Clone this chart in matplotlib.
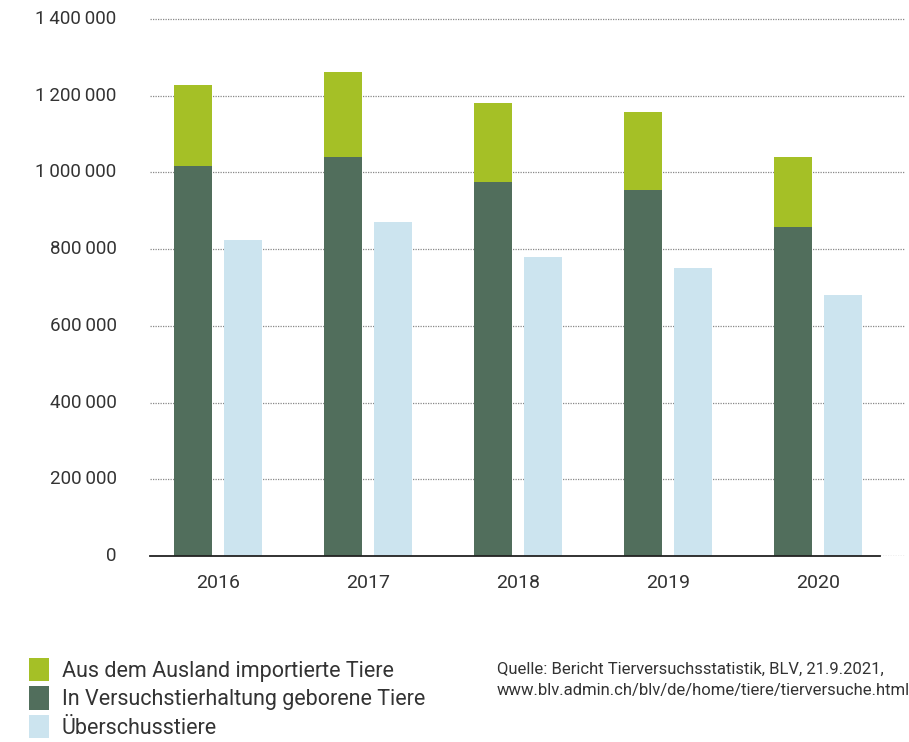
import matplotlib
matplotlib.use("Agg")
import matplotlib.pyplot as plt
import numpy as np
from matplotlib.ticker import FuncFormatter

years = ["2016", "2017", "2018", "2019", "2020"]
geboren = [1016000, 1040000, 974000, 953000, 857000]
importiert = [213000, 221000, 207000, 205000, 183000]
ueberschuss = [824000, 871000, 779000, 750000, 681000]
yticks = [0, 200000, 400000, 600000, 800000, 1000000, 1200000, 1400000]

labels = ["Aus dem Ausland importierte Tiere",
          "In Versuchstierhaltung geborene Tiere",
          "Überschusstiere"]
source = ("Quelle: Bericht Tierversuchsstatistik, BLV, 21.9.2021,\n"
          "www.blv.admin.ch/blv/de/home/tiere/tierversuche.html")

c_imp = "#a5c026"
c_geb = "#516e5c"
c_ueb = "#cce4ef"
txt = "#333333"

plt.rcParams['font.family'] = ['Roboto', 'DejaVu Sans']

fig = plt.figure(figsize=(9.09, 7.42), dpi=100)
ax = fig.add_axes([150/909, 186/742, 755/909, 541/742])

x = np.arange(len(years))
w = 38/150
off = 25/150
b1 = ax.bar(x - off, geboren, w, color=c_geb, zorder=3)
b2 = ax.bar(x - off, importiert, w, bottom=geboren, color=c_imp, zorder=3)
b3 = ax.bar(x + off, ueberschuss, w, color=c_ueb, zorder=3)

ax.set_xlim(-68/150, 687/150)
ax.set_ylim(0, 1400000 * (541/537))
ax.set_yticks(yticks)
ax.yaxis.set_major_formatter(FuncFormatter(lambda v, p: f"{int(v):,}".replace(",", "\u2009")))
ax.set_xticks(x)
ax.set_xticklabels(years)
ax.tick_params(axis='y', length=0, pad=24, labelsize=13.5, labelcolor=txt)
ax.tick_params(axis='x', length=0, pad=13, labelsize=14, labelcolor=txt)
for lab in ax.get_yticklabels():
    lab.set_verticalalignment('center')

ax.grid(axis='y', linestyle=(0, (1, 1)), color='#888888', linewidth=0.9, zorder=0)
ax.grid(axis='x', visible=False)
for s in ['top', 'right', 'left']:
    ax.spines[s].set_visible(False)
ax.spines['bottom'].set_color('#222222')
ax.spines['bottom'].set_linewidth(1.3)
ax.spines['bottom'].set_bounds(-68/150, 662/150)
ax.spines['bottom'].set_zorder(4)

leg = fig.legend([b2, b1, b3], labels, loc='upper left',
                 bbox_to_anchor=(20/909, 1 - 649/742), frameon=False,
                 fontsize=15.5, handlelength=0.95, handleheight=1.3,
                 handletextpad=0.6, labelspacing=0.22, borderaxespad=0)
for t in leg.get_texts():
    t.set_color(txt)

fig.text(497/909, 1 - 680/742, source, fontsize=12, color=txt,
         ha='left', va='center', linespacing=1.45)

fig.savefig("out.png", dpi=100)
